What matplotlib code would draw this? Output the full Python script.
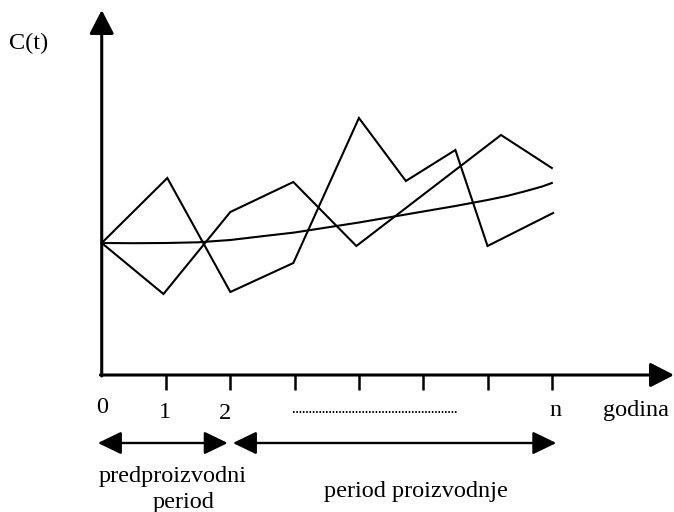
import matplotlib
matplotlib.use("Agg")
import matplotlib.pyplot as plt

# Series (x in years, y in arbitrary cost units)
years_a = [0, 1.02, 2.0, 2.98, 4.0, 4.73, 5.5, 6.0, 7.02]
cost_a = [13.2, 19.7, 8.3, 11.2, 25.7, 19.4, 22.5, 12.9, 16.2]

years_b = [0, 0.96, 2.0, 2.98, 3.96, 6.21, 7.0]
cost_b = [13.2, 8.1, 16.3, 19.3, 12.9, 24.0, 20.7]

years_trend = [0, 0.5, 1.0, 1.5, 2.0, 2.5, 3.0, 3.5, 4.0, 4.5, 5.0, 5.5,
               6.0, 6.3, 6.6, 6.85, 7.0]
cost_trend = [13.2, 13.18, 13.2, 13.27, 13.5, 13.88, 14.25, 14.75, 15.25,
              15.8, 16.35, 16.9, 17.5, 17.9, 18.4, 18.85, 19.2]

tick_years = [0, 1, 2, 3, 4, 5, 6, 7]
tick_labels = {0: "0", 1: "1", 2: "2", 7: "n"}

plt.rcParams["font.family"] = ["Liberation Serif", "DejaVu Serif"]
FS = 17.5

fig = plt.figure(figsize=(6.74, 5.12), dpi=100)
ax = fig.add_axes([0, 0, 1, 1])
ax.set_xlim(-1.582, 8.90)
ax.set_ylim(-13.7, 37.5)
ax.axis("off")

# axes with arrow heads
axis_arrow = dict(arrowstyle="-|>,head_length=14.5,head_width=7.5", lw=2.2,
                  color="black", shrinkA=0, shrinkB=0, mutation_scale=1)
ax.annotate("", xy=(0, 36.5), xytext=(0, -0.1), arrowprops=axis_arrow)
ax.annotate("", xy=(8.90, 0), xytext=(-0.02, 0), arrowprops=axis_arrow)

# tick marks
for t in tick_years[1:]:
    ax.plot([t, t], [0, -1.5], color="black", lw=1.8, solid_capstyle="butt")

# data lines
for xs, ys in [(years_a, cost_a), (years_b, cost_b), (years_trend, cost_trend)]:
    ax.plot(xs, ys, color="black", lw=1.5, solid_joinstyle="miter")

# tick labels
label_y = {0: -3.8, 1: -4.3, 2: -4.4, 7: -4.15}
label_dx = {0: 0, 1: -0.02, 2: -0.08, 7: 0.06}
for t, lab in tick_labels.items():
    ax.text(t + label_dx[t], label_y[t], lab, ha="center", va="baseline", fontsize=FS)
ax.text(8.31, -4.1, "godina", ha="center", va="baseline", fontsize=FS)
ax.text(-1.14, 33.2, "C(t)", ha="center", va="center", fontsize=FS)

# dotted ellipsis between ticks
ax.plot([2.98, 5.54], [-3.7, -3.7], color="black", lw=1.4, linestyle=(0, (0.8, 0.9)))

# period arrows
period_arrow = dict(arrowstyle="<|-|>,head_length=14.5,head_width=7", lw=1.7,
                    color="black", shrinkA=0, shrinkB=0, mutation_scale=1)
ax.annotate("", xy=(1.96, -6.8), xytext=(-0.06, -6.8), arrowprops=period_arrow)
ax.annotate("", xy=(7.07, -6.8), xytext=(2.04, -6.8), arrowprops=period_arrow)

ax.text(1.11, -10.7, "predproizvodni", ha="center", va="baseline", fontsize=FS)
ax.text(1.28, -13.3, "period", ha="center", va="baseline", fontsize=FS)
ax.text(4.88, -12.2, "period proizvodnje", ha="center", va="baseline", fontsize=FS)

fig.savefig("out.png", dpi=100)
